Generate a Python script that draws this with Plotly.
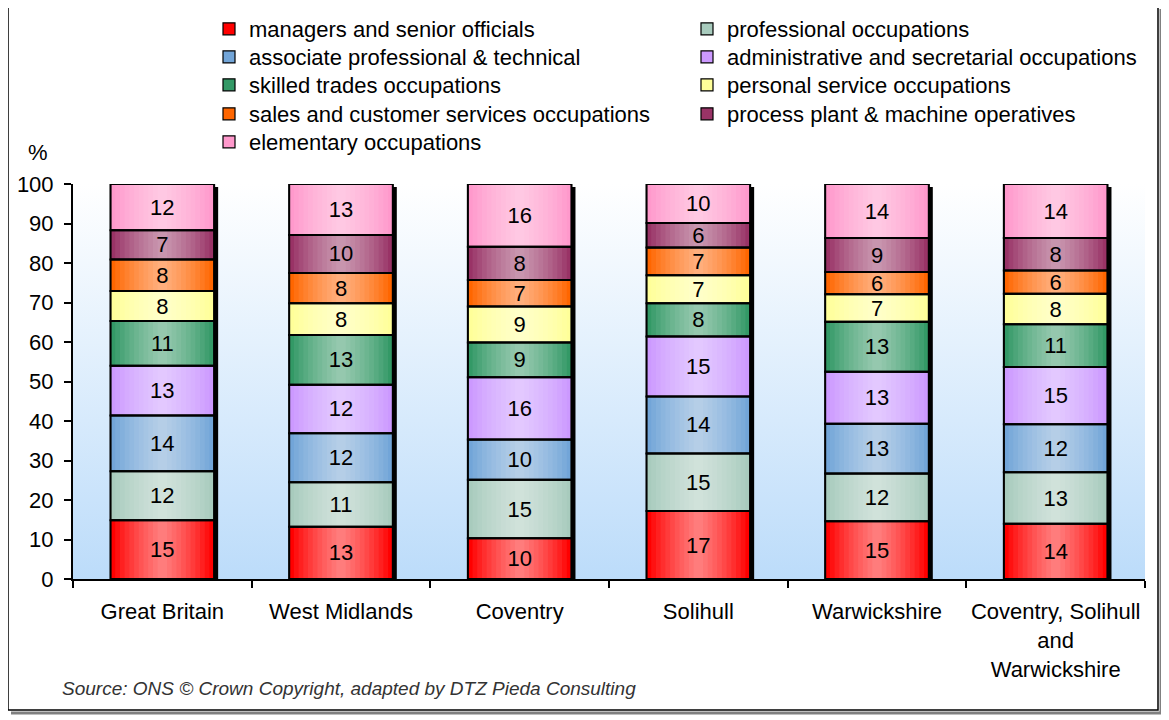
import base64
import plotly.graph_objects as go

# ---------------- data ----------------
areas = ["Great Britain", "West Midlands", "Coventry", "Solihull", "Warwickshire",
         "Coventry, Solihull<br>and<br>Warwickshire"]
occupations = [
    "managers and senior officials",
    "professional occupations",
    "associate professional & technical",
    "administrative and secretarial occupations",
    "skilled trades occupations",
    "personal service occupations",
    "sales and customer services occupations",
    "process plant & machine operatives",
    "elementary occupations",
]
managers = [14.9, 13.2, 10.3, 17.2, 14.6, 14.0]
professional = [12.4, 11.3, 14.8, 14.6, 12.1, 13.0]
associate = [14.1, 12.4, 10.2, 14.4, 12.6, 12.2]
administrative = [12.6, 12.3, 15.8, 15.2, 13.2, 14.5]
skilled = [11.3, 12.6, 8.8, 8.4, 12.6, 10.8]
personal = [7.6, 8.0, 9.1, 7.1, 7.0, 7.7]
sales = [8.0, 7.7, 6.7, 7.0, 5.6, 5.9]
process = [7.4, 9.6, 8.4, 6.2, 8.6, 8.2]
elementary = [11.7, 12.9, 15.9, 9.9, 13.7, 13.7]
series = [managers, professional, associate, administrative, skilled,
          personal, sales, process, elementary]
colors = ["#ff0000", "#a8cbbd", "#72a5d8", "#cc99ff", "#339966",
          "#ffff99", "#ff6600", "#993366", "#ff99cc"]
y_ticks = [0, 10, 20, 30, 40, 50, 60, 70, 80, 90, 100]

# ---------------- geometry helpers (page pixel coords) ----------------
OFF = 8                      # default body margin of the html page
W = 1169 - OFF
H = 720 - OFF
PL, PR, PT, PB = 73 - OFF, 1145 - OFF, 184 - OFF, 579 - OFF
BAR_W = 0.58
n = len(areas)
slot_px = (PR - PL) / n


def px_x(p):
    return (p - OFF - PL) / (PR - PL)


def px_y(p):
    return (PB - (p - OFF)) / (PB - PT)


def cx(p):
    return (p - OFF) / W


def cy(p):
    return 1 - (p - OFF) / H


# cumulative bases
bases = []
acc = [0.0] * n
for s in series:
    bases.append([round(a, 6) for a in acc])
    acc = [round(a + v, 6) for a, v in zip(acc, s)]
totals = acc

font_family = "Liberation Sans, Arial, sans-serif"
FS = 22

fig = go.Figure()

# shadow behind each bar
sh_dx = 4 / slot_px
sh_dy = 3 / ((PB - PT) / 100)
fig.add_trace(go.Bar(
    x=areas, y=[t - sh_dy for t in totals], width=BAR_W, offset=-BAR_W / 2 + sh_dx,
    marker=dict(color="#000000", line=dict(width=0)), showlegend=False, hoverinfo="skip"))

# coloured segments
legend_names = ["legend"] + ["legend%d" % k for k in range(2, 10)]
for i, (name, s, c) in enumerate(zip(occupations, series, colors)):
    fig.add_trace(go.Bar(
        x=areas, y=s, base=bases[i], name=name, width=BAR_W,
        marker=dict(color=c, line=dict(color="#000000", width=1.2)),
        legend=legend_names[i], hoverinfo="skip"))

# highlight layers (horizontal gradient look)
N = 10
alpha = 1 - 0.5 ** (1 / N)
for k in range(N):
    w = BAR_W * (N - k) / (N + 1)
    fig.add_trace(go.Bar(
        x=areas, y=totals, width=w,
        marker=dict(color="rgba(255,255,255,%.3f)" % alpha, line=dict(width=0)),
        showlegend=False, hoverinfo="skip"))

# outlines + labels
xs, ys, bs, txt = [], [], [], []
for i, s in enumerate(series):
    for j, v in enumerate(s):
        xs.append(areas[j])
        ys.append(v)
        bs.append(bases[i][j])
        txt.append(str(int(v + 0.5)))
fig.add_trace(go.Bar(
    x=xs, y=ys, base=bs, width=BAR_W, text=txt, textposition="inside",
    insidetextanchor="middle", textangle=0,
    insidetextfont=dict(family=font_family, size=FS, color="#000000"),
    marker=dict(color="rgba(0,0,0,0)", line=dict(color="#000000", width=2)),
    showlegend=False, hoverinfo="skip", cliponaxis=False))

# gradient plot background
svg = ('<svg xmlns="http://www.w3.org/2000/svg" width="10" height="100" viewBox="0 0 10 100" '
       'preserveAspectRatio="none"><defs><linearGradient id="g" x1="0" y1="0" x2="0" y2="1">'
       '<stop offset="0" stop-color="#ffffff"/><stop offset="1" stop-color="#bcdcfa"/>'
       '</linearGradient></defs><rect width="10" height="100" fill="url(#g)"/></svg>')
src = "data:image/svg+xml;base64," + base64.b64encode(svg.encode()).decode()

# one legend per entry so the two-column grid matches the original spacing
text_x = [249, 727]
row_y = [29, 57, 85, 114, 142]
legends = {}
for i, key in enumerate(legend_names):
    legends[key] = dict(
        x=cx(text_x[i % 2] - 40), xref="container", xanchor="left",
        y=cy(row_y[i // 2]), yref="container", yanchor="middle",
        orientation="v", bgcolor="rgba(0,0,0,0)", borderwidth=0,
        font=dict(family=font_family, size=FS, color="#000000"))

fig.update_layout(
    width=W, height=H,
    margin=dict(l=PL, r=W - PR, t=PT, b=H - PB, pad=0, autoexpand=False),
    barmode="overlay",
    paper_bgcolor="#ffffff",
    plot_bgcolor="rgba(0,0,0,0)",
    font=dict(family=font_family, size=FS, color="#000000"),
    uniformtext=dict(minsize=FS, mode="show"),
    images=[dict(source=src, xref="paper", yref="paper", x=0, y=1, sizex=1, sizey=1,
                 sizing="stretch", layer="below", xanchor="left", yanchor="top")],
    xaxis=dict(type="category", showgrid=False, zeroline=False,
               showline=True, linecolor="#000000", linewidth=2,
               ticks="outside", ticklen=7, tickwidth=2, tickcolor="#000000",
               tickson="boundaries", ticklabelstandoff=12, tickangle=0,
               tickfont=dict(family=font_family, size=FS, color="#000000")),
    yaxis=dict(range=[0, 100], tickvals=y_ticks, showgrid=False, zeroline=False,
               showline=True, linecolor="#000000", linewidth=2,
               ticks="outside", ticklen=7, tickwidth=2, tickcolor="#000000",
               ticklabelstandoff=6,
               tickfont=dict(family=font_family, size=FS, color="#000000")),
    annotations=[
        dict(text="%", xref="paper", yref="paper", x=px_x(38), y=px_y(152),
             showarrow=False, xanchor="center", yanchor="middle",
             font=dict(family=font_family, size=FS, color="#000000")),
        dict(text="Source: ONS © Crown Copyright, adapted by DTZ Pieda Consulting",
             xref="paper", yref="paper", x=px_x(60), y=px_y(688),
             showarrow=False, xanchor="left", yanchor="middle",
             font=dict(family=font_family, size=19, color="#333333", style="italic")),
    ],
    shapes=[
        # frame shadow
        dict(type="line", xref="paper", yref="paper", x0=px_x(1161), x1=px_x(1161),
             y0=px_y(9), y1=px_y(713), line=dict(color="#808080", width=3)),
        dict(type="line", xref="paper", yref="paper", x0=px_x(11), x1=px_x(1162),
             y0=px_y(713), y1=px_y(713), line=dict(color="#808080", width=3)),
        # frame
        dict(type="rect", xref="paper", yref="paper", x0=px_x(8), x1=px_x(1158),
             y0=px_y(710), y1=px_y(6), line=dict(color="#000000", width=1.5)),
    ],
    **legends,
)

fig.write_html("out.html")
